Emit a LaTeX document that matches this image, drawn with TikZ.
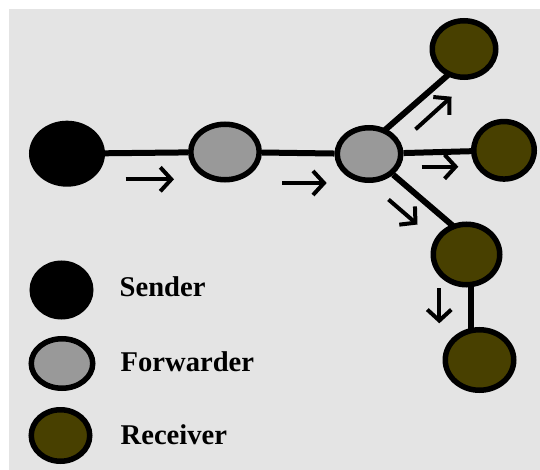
\documentclass[tikz,border=0pt]{standalone}
\usepackage{fontspec}
\setmainfont{Liberation Serif}
\usetikzlibrary{shapes.geometric,arrows.meta,calc,backgrounds}
\definecolor{bg}{RGB}{228,228,228}
\definecolor{fwd}{RGB}{153,153,153}
\definecolor{rcv}{RGB}{72,64,0}
\begin{document}
\begin{tikzpicture}[x=1pt,y=-1pt,
  nodebase/.style={ellipse, draw=black, line width=5.5pt, inner sep=0pt},
  sz/.style 2 args={minimum width={#1*1pt-5.5pt}, minimum height={#2*1pt-5.5pt}},
  sendernode/.style={nodebase, fill=black},
  forwardernode/.style={nodebase, fill=fwd},
  receivernode/.style={nodebase, fill=rcv},
  link/.style={line width=6pt},
  flow/.style={line width=4pt, -{Straight Barb[length=11pt,width=24pt]}},
  legendtext/.style={anchor=base west, font=\fontsize{28.6}{32}\selectfont\bfseries, inner sep=0pt}]
\useasboundingbox (0,0) rectangle (540,470);
% nodes
\node[sendernode, sz={76}{66}] (S) at (67,153.7) {};
\node[forwardernode, sz={74}{61}] (F1) at (225,152) {};
\node[forwardernode, sz={69}{58}] (F2) at (369,154) {};
\node[receivernode, sz={69}{62}] (Rtop) at (464,49) {};
\node[receivernode, sz={66}{63}] (Rright) at (504,150.3) {};
\node[receivernode, sz={72}{66}] (Rmid) at (466.5,254.5) {};
\node[receivernode, sz={74}{66}] (Rbot) at (479.5,360) {};
\coordinate (vline) at (471,0);
% links and background
\begin{scope}[on background layer]
  \fill[bg] (9,9.3) rectangle (540,470);
  \draw[link] (S) -- (F1);
  \draw[link] (F1) -- (F2);
  \draw[link] ($(F2)+(0,-10)$) -- ($(Rtop)+(0,12)$);
  \draw[link] (F2) -- (Rright);
  \draw[link] (F2) -- ($(Rmid)+(0,-17)$);
  \draw[link] (Rmid -| vline) -- (Rbot -| vline);
\end{scope}
% flow arrows
\coordinate (a1s) at (125.7,179.3); \coordinate (a1e) at (174,179.3);
\coordinate (a2s) at (282,183); \coordinate (a2e) at (326.7,183);
\coordinate (a3s) at (415.5,129.3); \coordinate (a3e) at (451.5,96.7);
\coordinate (a4s) at (421.7,166.7); \coordinate (a4e) at (458.3,166.7);
\coordinate (a5s) at (388.5,199.5); \coordinate (a5e) at (417.5,224.5);
\coordinate (a6s) at (439.3,288.3); \coordinate (a6e) at (439.3,323.3);
\draw[flow] (a1s) -- (a1e);
\draw[flow] (a2s) -- (a2e);
\draw[flow] (a3s) -- (a3e);
\draw[flow] (a4s) -- (a4e);
\draw[flow] (a5s) -- (a5e);
\draw[flow] (a6s) -- (a6e);
% legend
\node[sendernode, sz={64}{59}] (LS) at (61.5,290) {};
\node[forwardernode, sz={67}{55}] (LF) at (62,363.5) {};
\node[receivernode, sz={64}{57}] (LR) at (60.5,435.5) {};
\node[legendtext] (TS) at (119.5,296.5) {Sender};
\node[legendtext] (TF) at (120.5,371) {Forwarder};
\node[legendtext] (TR) at (120.5,444) {Receiver};
\end{tikzpicture}
\end{document}
